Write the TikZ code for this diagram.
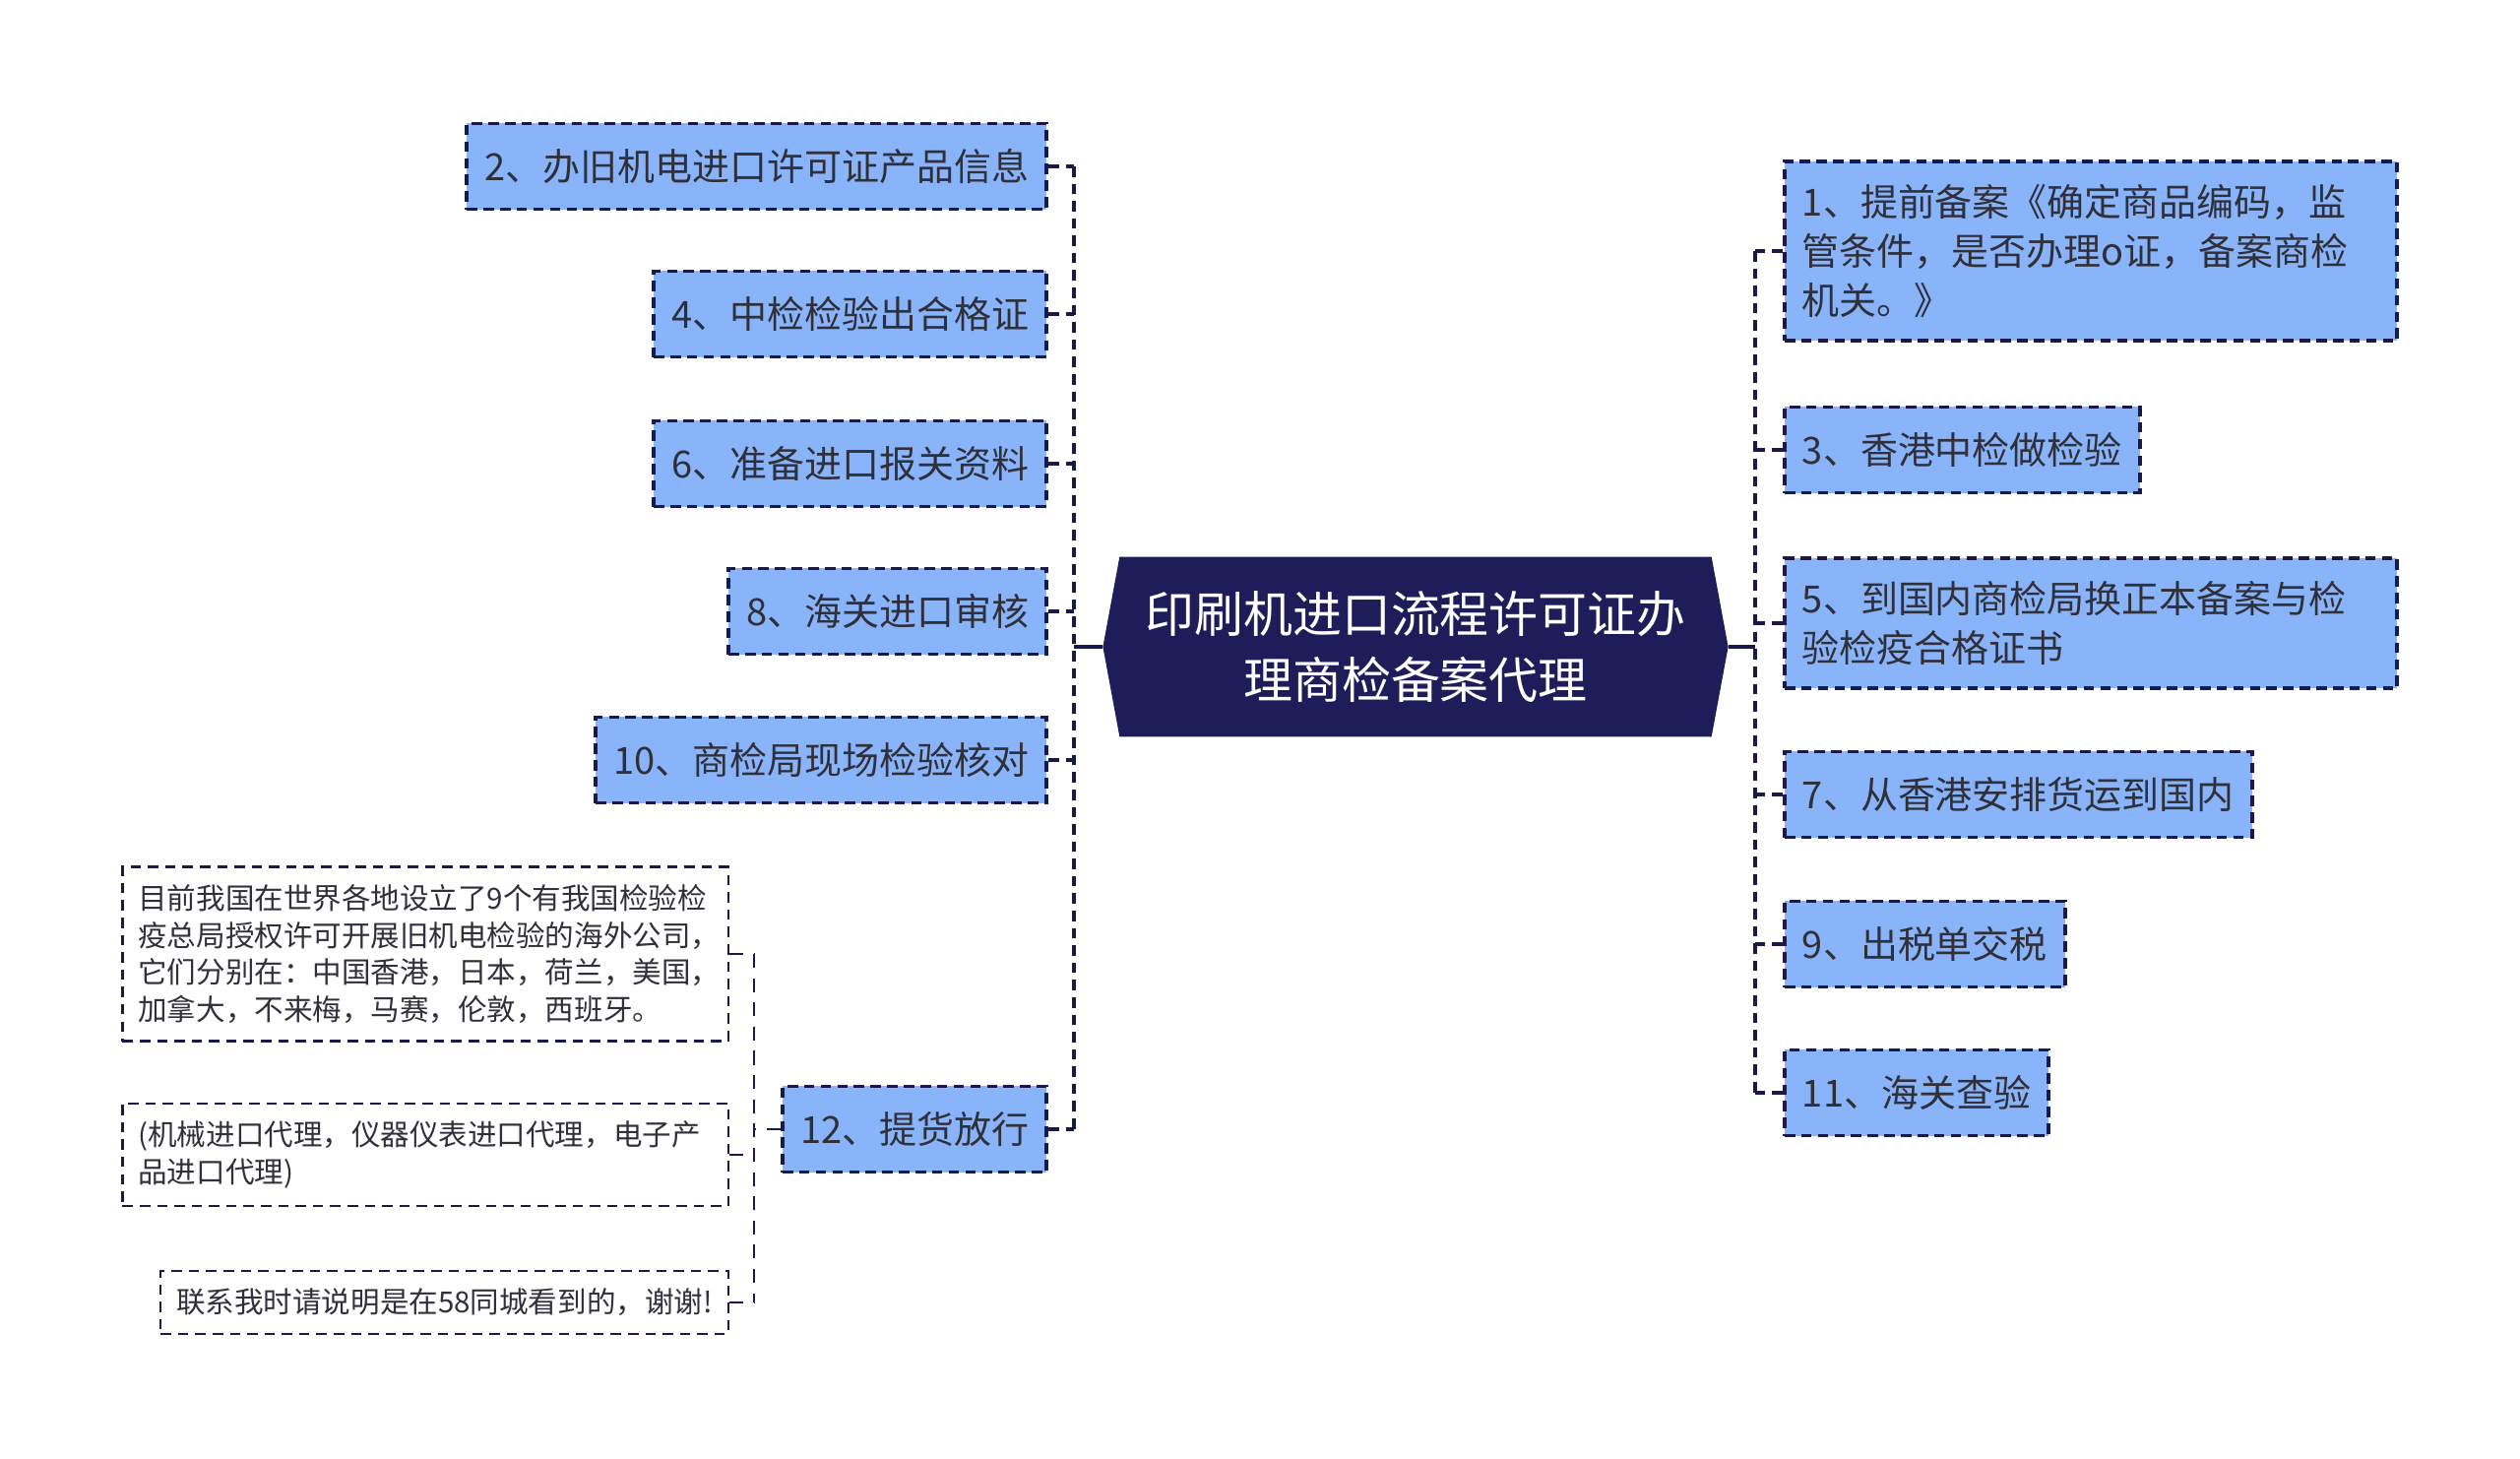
\documentclass[tikz,border=0pt]{standalone}
\usepackage{fontspec}
\setmainfont{Noto Sans CJK SC}
\usetikzlibrary{shapes.symbols}

\definecolor{hubnavy}{RGB}{31,29,89}
\definecolor{leafblue}{RGB}{137,180,250}
\definecolor{edgenavy}{RGB}{26,26,72}
\definecolor{inkgray}{RGB}{48,48,58}

\newcommand{\hubfont}{\fontsize{14.2pt}{19pt}\selectfont}
\newcommand{\leaffont}{\fontsize{10.8pt}{14.2pt}\selectfont}
\newcommand{\notefont}{\fontsize{8.4pt}{10.7pt}\selectfont}

\begin{document}
\begin{tikzpicture}[x=0.01cm, y=-0.01cm,
  hub/.style={signal, signal to=west and east, signal pointer angle=159,
    fill=hubnavy, text=white, font=\hubfont, align=center,
    inner xsep=0.26cm, inner ysep=0.35cm},
  leaf/.style={draw=edgenavy, line width=1.1pt, dash pattern=on 3pt off 1.8pt,
    fill=leafblue, text=inkgray, font=\leaffont, align=left,
    inner xsep=0.18cm, inner ysep=0.235cm, minimum height=0.87cm},
  note/.style={draw=edgenavy, line width=0.7pt, dash pattern=on 3pt off 2pt,
    fill=white, text=inkgray, font=\notefont, align=left,
    inner xsep=0.16cm, inner ysep=0.18cm},
  link/.style={edgenavy, line width=1.1pt, dash pattern=on 3pt off 2pt},
  thinlink/.style={edgenavy, line width=0.7pt, dash pattern=on 4pt off 3pt},
  stem/.style={edgenavy, line width=1.3pt}]

  \useasboundingbox (0,0) rectangle (2560,1482);

  % Center
  \node[hub] (hub) at (1438,657) {印刷机进口流程许可证办\\理商检备案代理};

  % Joints of the two spines
  \coordinate (ljoin) at (1091,657);
  \coordinate (rjoin) at (1783,657);
  \coordinate (njoin) at (766,1147);

  % Left branches (even steps)
  \node[leaf, anchor=east] (b2)  at (1065,169)  {2、办旧机电进口许可证产品信息};
  \node[leaf, anchor=east] (b4)  at (1065,319)  {4、中检检验出合格证};
  \node[leaf, anchor=east] (b6)  at (1065,471)  {6、准备进口报关资料};
  \node[leaf, anchor=east] (b8)  at (1065,621)  {8、海关进口审核};
  \node[leaf, anchor=east] (b10) at (1065,772)  {10、商检局现场检验核对};
  \node[leaf, anchor=east] (b12) at (1065,1147) {12、提货放行};

  % Right branches (odd steps)
  \node[leaf, anchor=west, text width=5.86cm] (r1) at (1811,255)
    {1、提前备案《确定商品编码，监\\管条件，是否办理o证，备案商检\\机关。》};
  \node[leaf, anchor=west] (r3)  at (1811,457)  {3、香港中检做检验};
  \node[leaf, anchor=west, text width=5.86cm] (r5) at (1811,633)
    {5、到国内商检局换正本备案与检\\验检疫合格证书};
  \node[leaf, anchor=west] (r7)  at (1811,807)  {7、从香港安排货运到国内};
  \node[leaf, anchor=west] (r9)  at (1811,959)  {9、出税单交税};
  \node[leaf, anchor=west] (r11) at (1811,1110) {11、海关查验};

  % Notes under step 12
  \node[note, anchor=east, text width=5.83cm] (na) at (741,969)
    {目前我国在世界各地设立了9个有我国检验检\\疫总局授权许可开展旧机电检验的海外公司，\\它们分别在：中国香港，日本，荷兰，美国，\\加拿大，不来梅，马赛，伦敦，西班牙。};
  \node[note, anchor=east, text width=5.83cm] (nb) at (741,1173)
    {(机械进口代理，仪器仪表进口代理，电子产\\品进口代理)};
  \node[note, anchor=east] (nc) at (741,1323)
    {联系我时请说明是在58同城看到的，谢谢!};

  % Stems from the center
  \draw[stem] (hub.west) -- (ljoin);
  \draw[stem] (hub.east) -- (rjoin);

  % Left spine
  \draw[link] (b2.east -| ljoin) -- (b12.east -| ljoin);
  \foreach \b in {b2,b4,b6,b8,b10,b12}
    \draw[link] (\b.east) -- (\b.east -| ljoin);

  % Right spine
  \draw[link] (r1.west -| rjoin) -- (r11.west -| rjoin);
  \foreach \r in {r1,r3,r5,r7,r9,r11}
    \draw[link] (\r.west) -- (\r.west -| rjoin);

  % Notes spine
  \draw[thinlink] (na.east -| njoin) -- (nc.east -| njoin);
  \foreach \n in {na,nb,nc}
    \draw[thinlink] (\n.east) -- (\n.east -| njoin);
  \draw[thinlink] (b12.west) -- (njoin);

\end{tikzpicture}
\end{document}
